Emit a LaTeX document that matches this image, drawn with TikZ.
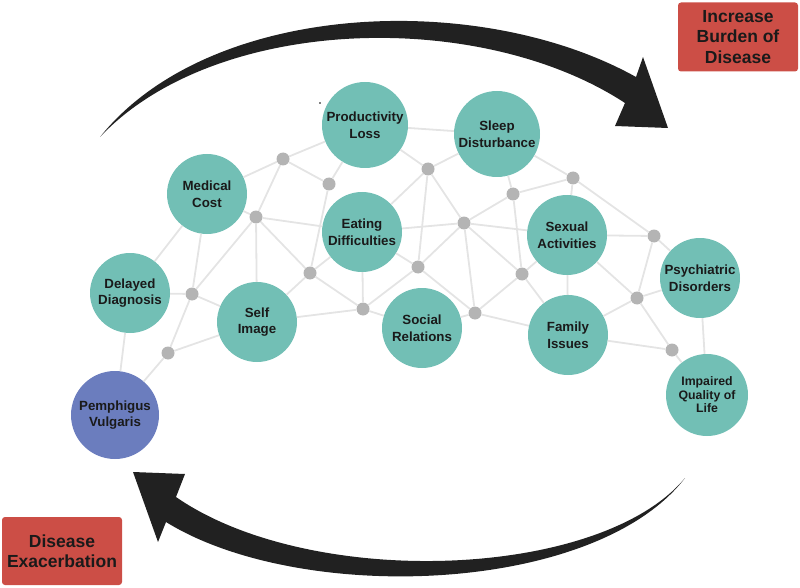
\documentclass[tikz,border=0pt]{standalone}
\usepackage{fontspec}
\setmainfont{Liberation Sans}
\definecolor{topicteal}{RGB}{114,191,181}
\definecolor{pvblue}{RGB}{107,125,190}
\definecolor{dotgrey}{RGB}{180,180,180}
\definecolor{edgegrey}{RGB}{228,228,228}
\definecolor{boxred}{RGB}{204,78,70}
\definecolor{arrowblack}{RGB}{33,33,33}
\definecolor{textdark}{RGB}{26,26,26}
\tikzset{
  topic/.style={circle, fill=topicteal, minimum size=80pt, inner sep=0pt, align=center,
    font=\fontsize{13.3}{16.5}\selectfont\bfseries, text=textdark},
  hub/.style={circle, fill=dotgrey, minimum size=13pt, inner sep=0pt},
  link/.style={draw=edgegrey, line width=1.8pt},
  redbox/.style={fill=boxred, rounded corners=3pt, minimum width=120pt, minimum height=69pt,
    inner sep=0pt, align=center, font=\fontsize{17.5}{20.5}\selectfont\bfseries, text=textdark},
  bigarrow/.style={fill=arrowblack}
}
\begin{document}
\begin{tikzpicture}[x=1pt,y=-1pt]
\useasboundingbox (0,0) rectangle (800,588);
% topics
\node[topic, minimum size=86pt] (PL) at (365,125) {Productivity\\Loss};
\node[topic, minimum size=86pt] (SD) at (497,134) {Sleep\\Disturbance};
\node[topic] (MC) at (207,194) {Medical\\Cost};
\node[topic] (ED) at (362,232) {Eating\\Difficulties};
\node[topic] (SA) at (567,235) {Sexual\\Activities};
\node[topic] (DD) at (130,293) {Delayed\\Diagnosis};
\node[topic] (SI) at (257,322) {Self\\Image};
\node[topic] (SR) at (422,328) {Social\\Relations};
\node[topic] (FI) at (568,335) {Family\\Issues};
\node[topic] (PD) at (700,278) {Psychiatric\\Disorders};
\node[topic, minimum size=82pt, font=\fontsize{12.3}{13.5}\selectfont\bfseries] (IQ) at (707,395) {Impaired\\Quality of\\Life};
\node[topic, fill=pvblue, minimum size=88pt] (PV) at (115,415) {Pemphigus\\Vulgaris};
% hubs
\node[hub] (g1) at (283,159) {};
\node[hub] (g2) at (329,184) {};
\node[hub] (g3) at (256,217) {};
\node[hub] (g4) at (428,169) {};
\node[hub] (g5) at (464,223) {};
\node[hub] (g6) at (310,273) {};
\node[hub] (g7) at (418,267) {};
\node[hub] (g8) at (363,309) {};
\node[hub] (g9) at (475,313) {};
\node[hub] (g10) at (192,294) {};
\node[hub] (g11) at (168,353) {};
\node[hub] (g12) at (573,178) {};
\node[hub] (g13) at (513,194) {};
\node[hub] (g14) at (654,236) {};
\node[hub] (g15) at (522,274) {};
\node[hub] (g16) at (637,298) {};
\node[hub] (g17) at (672,350) {};
% links
\foreach \a/\b in {PL/SD, PL/g1, PL/g2, PL/g4, SD/g4, SD/g13, SD/g12,
  MC/g1, MC/g3, MC/DD, MC/g10, g1/g2, g1/g3, g2/g6, g3/ED, g3/SI, g3/g6, g3/g10,
  g4/ED, g4/g7, g4/g5, g5/ED, g5/g7, g5/g13, g5/SA, g5/g15, g5/g9,
  g6/ED, g6/g8, g6/SI, g7/ED, g7/g8, g7/g9, g8/SI, g8/SR, g8/ED,
  g9/SR, g9/FI, g9/g15, g10/DD, g10/SI, g10/g11, g11/SI, g11/PV, DD/PV,
  g12/g13, g12/g14, g12/SA, g13/g15, g15/SA, g15/FI, SA/FI, SA/g14, SA/g16,
  g14/PD, g14/g16, g16/FI, g16/PD, g16/g17, g17/FI, g17/IQ, PD/IQ}
  \draw[link] (\a) -- (\b);
% stray dot
\fill[black] (320,103) circle (0.9pt);
% red boxes
\node[redbox] (burden) at (738,37) {Increase\\Burden of\\Disease};
\node[redbox, minimum height=68pt] (exac) at (62,551) {Disease\\Exacerbation};
% big curved arrows
\fill[bigarrow] (100,137) .. controls (210,0) and (480,-10) .. (636,77)
  -- (643,57) -- (668,128) -- (615,126) -- (625,103)
  .. controls (480,8) and (215,15) .. (100,137) -- cycle;
\fill[bigarrow] (685,478) .. controls (595,595) and (300,605) .. (166,522)
  -- (158,542) -- (133,472) -- (185,474) -- (176,497)
  .. controls (310,590) and (600,580) .. (685,478) -- cycle;
\end{tikzpicture}
\end{document}
